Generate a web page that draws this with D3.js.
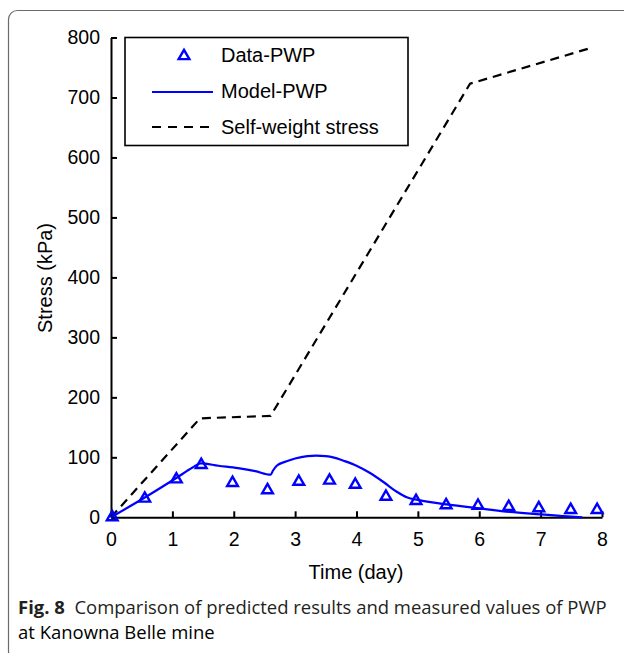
<!DOCTYPE html>
<html>
<head>
<meta charset="utf-8">
<script src="https://cdn.jsdelivr.net/npm/d3@7"></script>
<style>
  html, body { margin: 0; padding: 0; background: #fff; }
  svg { display: block; }
  text { font-family: "Liberation Sans", Arial, sans-serif; fill: #000; }
</style>
</head>
<body>
<svg id="chart" width="624" height="653"></svg>
<script>
// ---- data ----
const xTicks = [0, 1, 2, 3, 4, 5, 6, 7, 8];
const yTicks = [0, 100, 200, 300, 400, 500, 600, 700, 800];

const dataDay = [0.02, 0.55, 1.065, 1.47, 1.98, 2.55, 3.06, 3.56, 3.98, 4.48, 4.97, 5.46, 5.98, 6.48, 6.97, 7.49, 7.92];
const dataPWP = [2, 33, 65, 89, 59, 47, 61, 63, 56, 36, 29, 22, 21, 19, 17, 14, 14];

const modelDay = [0, 0.55, 1.07, 1.33, 1.46, 1.75, 2.07, 2.35, 2.6, 2.64, 2.7, 2.85, 3.0, 3.2, 3.34, 3.5, 3.62, 3.8, 4.0, 4.2, 4.45, 4.65, 4.83, 5.0, 5.5, 6.0, 6.5, 7.0, 7.5, 7.68];
const modelPWP = [0, 33, 66, 83, 90, 86, 82, 77, 71, 78, 86, 93, 98, 102, 103, 102, 100, 94, 86, 75, 58, 43, 33, 29, 21, 15, 9, 5, 1, 0];

const swDay = [0, 1.45, 2.6, 5.85, 7.8];
const swStress = [0, 165, 169, 723, 782];

const legendLabels = ["Data-PWP", "Model-PWP", "Self-weight stress"];
const xTitle = "Time (day)";
const yTitle = "Stress (kPa)";
const captionBold = "Fig. 8";
const captionLine1 = "Comparison of predicted results and measured values of PWP";
const captionLine2 = "at Kanowna Belle mine";

// ---- drawing ----
const svg = d3.select("#chart");
const BLUE = "#0000ff";

// outer frame
svg.append("rect")
  .attr("x", 8.5).attr("y", 10.5)
  .attr("width", 660).attr("height", 650)
  .attr("rx", 9).attr("ry", 9)
  .attr("fill", "none").attr("stroke", "#6b6b6b").attr("stroke-width", 1.2);

const x = d3.scaleLinear().domain([0, 8]).range([111, 602]);
const y = d3.scaleLinear().domain([0, 800]).range([517.3, 37.5]);

// axes
const gx = svg.append("g").attr("transform", `translate(0,${y(0)})`)
  .call(d3.axisBottom(x).tickValues(xTicks).tickSizeInner(-6).tickSizeOuter(0).tickPadding(15));
const gy = svg.append("g").attr("transform", `translate(${x(0)},0)`)
  .call(d3.axisLeft(y).tickValues(yTicks).tickSizeInner(-6).tickSizeOuter(0).tickPadding(11));

[gx, gy].forEach(g => {
  g.select(".domain").attr("stroke", "#000").attr("stroke-width", 2);
  g.selectAll(".tick line").attr("stroke", "#000").attr("stroke-width", 2);
  g.selectAll(".tick text")
    .attr("font-family", "Liberation Sans, Arial, sans-serif")
    .attr("font-size", 19.5).attr("fill", "#000");
});
gy.select(".tick:last-of-type line").attr("x2", 6);

// axis titles
svg.append("text")
  .attr("x", 356).attr("y", 579)
  .attr("text-anchor", "middle").attr("font-size", 20)
  .text(xTitle);
svg.append("text")
  .attr("transform", "translate(52,278) rotate(-90)")
  .attr("text-anchor", "middle").attr("font-size", 20)
  .text(yTitle);

// self-weight dashed line
const swPts = swDay.map((d, i) => [d, swStress[i]]);
svg.append("path")
  .datum(swPts)
  .attr("fill", "none").attr("stroke", "#000").attr("stroke-width", 2.2)
  .attr("stroke-dasharray", "9,6")
  .attr("d", d3.line().x(d => x(d[0])).y(d => y(d[1])));

// model line
const modelPts = modelDay.map((d, i) => [d, modelPWP[i]]);
svg.append("path")
  .datum(modelPts)
  .attr("fill", "none").attr("stroke", BLUE).attr("stroke-width", 2.2)
  .attr("stroke-linejoin", "round")
  .attr("d", d3.line().curve(d3.curveMonotoneX).x(d => x(d[0])).y(d => y(d[1])));

// triangles
const tri = d3.symbol().type(d3.symbolTriangle).size(50);
const dataPts = dataDay.map((d, i) => [d, dataPWP[i]]);
svg.append("g").selectAll("path")
  .data(dataPts).join("path")
  .attr("transform", d => `translate(${x(d[0])},${y(d[1]) + 1})`)
  .attr("d", tri)
  .attr("fill", "none").attr("stroke", BLUE).attr("stroke-width", 2.4);

// legend
const lg = svg.append("g");
lg.append("rect")
  .attr("x", 125).attr("y", 37.5).attr("width", 283).attr("height", 108)
  .attr("fill", "#fff").attr("stroke", "#000").attr("stroke-width", 1.6);
const rowsY = [55, 91, 127];
lg.append("path").attr("transform", `translate(184,${rowsY[0] + 1})`).attr("d", tri)
  .attr("fill", "none").attr("stroke", BLUE).attr("stroke-width", 2.4);
lg.append("line").attr("x1", 152).attr("x2", 213).attr("y1", rowsY[1] + 1).attr("y2", rowsY[1] + 1)
  .attr("stroke", BLUE).attr("stroke-width", 2.2);
lg.append("line").attr("x1", 152).attr("x2", 213).attr("y1", rowsY[2]).attr("y2", rowsY[2])
  .attr("stroke", "#000").attr("stroke-width", 2.2).attr("stroke-dasharray", "9,7");
legendLabels.forEach((t, i) => {
  lg.append("text").attr("x", 221).attr("y", rowsY[i] + 7)
    .attr("font-size", 20).text(t);
});

// caption
const cap = svg.append("text")
  .attr("x", 18).attr("y", 614)
  .style("font-family", "'Open Sans', 'Noto Sans', sans-serif")
  .attr("font-size", 17).attr("fill", "#231f20");
cap.append("tspan").attr("font-weight", "bold").attr("fill", "#231f20").text(captionBold);
cap.append("tspan").attr("fill", "#231f20").text("\u00a0\u00a0" + captionLine1);
const w = cap.node().getComputedTextLength();
const fs = 17 * 589 / w;
cap.attr("font-size", fs);
svg.append("text")
  .attr("x", 18).attr("y", 639)
  .style("font-family", "'Open Sans', 'Noto Sans', sans-serif")
  .attr("font-size", fs).attr("fill", "#231f20")
  .text(captionLine2);
</script>
</body>
</html>
